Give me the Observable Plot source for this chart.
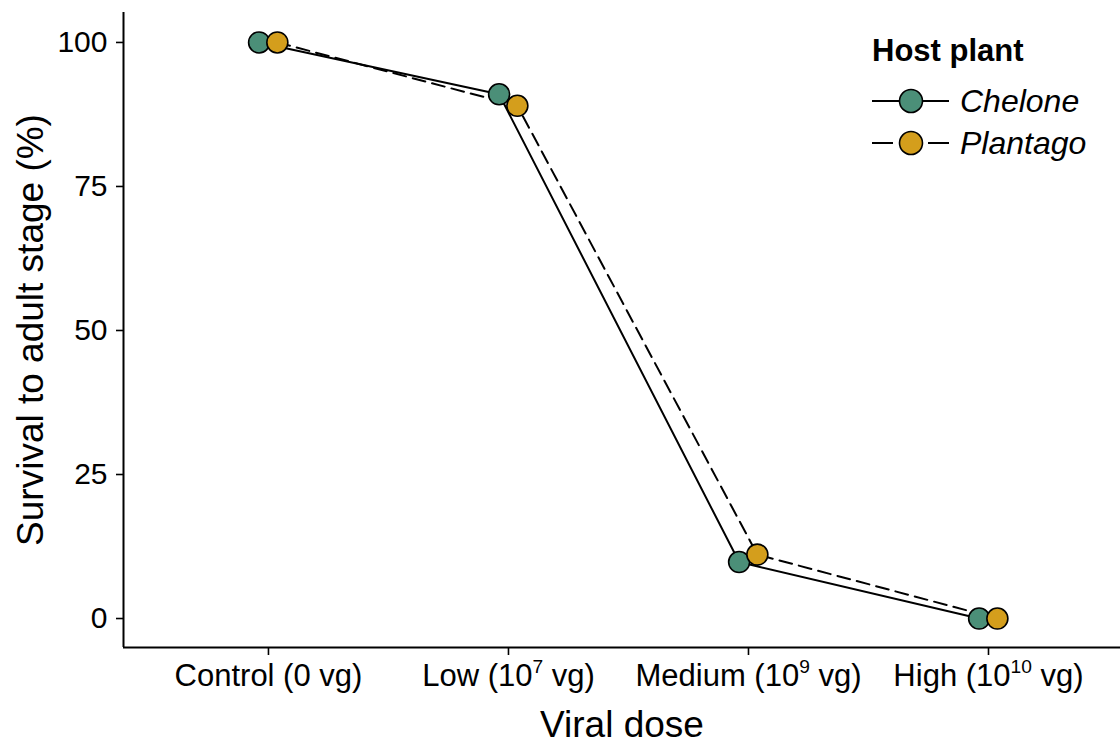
<!DOCTYPE html>
<html>
<head>
<meta charset="utf-8">
<script src="https://cdn.jsdelivr.net/npm/d3@7"></script>
<script src="https://cdn.jsdelivr.net/npm/@observablehq/plot@0.6"></script>
<style>
  html, body { margin: 0; padding: 0; background: #fff; }
  #wrap { position: relative; width: 1120px; height: 746px; font-family: "Liberation Sans", Arial, sans-serif; }
  #legend { position: absolute; left: 850px; top: 20px; }
</style>
</head>
<body>
<div id="wrap"></div>
<script>
// ---- data ----
const categories = ["Control (0 vg)", "Low (10^7 vg)", "Medium (10^9 vg)", "High (10^10 vg)"];
const hostPlants = ["Chelone", "Plantago"];
const cheloneSurvival = [100, 91.0, 9.8, 0];
const plantagoSurvival = [100, 89.0, 11.1, 0];
const yTicks = [0, 25, 50, 75, 100];
const plantColors = ["#4b8f78", "#d49e1c"];
const plantDash = [null, "13,7"];
const legendTitle = "Host plant";

// build table
const dodge = {Chelone: -0.039, Plantago: 0.037};
const rows = [];
categories.forEach((c, i) => {
  rows.push({plant: "Chelone", cat: c, idx: i, x: i + dodge.Chelone, y: cheloneSurvival[i]});
  rows.push({plant: "Plantago", cat: c, idx: i, x: i + dodge.Plantago, y: plantagoSurvival[i]});
});

const xDomain = [-0.604, 3.55];
const yDomain = [-5.03, 105.2];
const font = "'Liberation Sans', Arial, Helvetica, sans-serif";

const chart = Plot.plot({
  width: 1120,
  height: 746,
  marginLeft: 123,
  marginRight: 0,
  marginTop: 12,
  marginBottom: 99,
  style: {fontFamily: font, background: "#fff", color: "#000"},
  x: {domain: xDomain},
  y: {domain: yDomain},
  color: {domain: hostPlants, range: plantColors},
  marks: [
    Plot.axisY({ticks: yTicks, tickSize: 7, tickPadding: 9, fontSize: 30, label: null, stroke: "#000", strokeWidth: 1.6, fill: "#000"}),
    Plot.axisX({ticks: [0, 1, 2, 3], tickFormat: i => categories[i], tickSize: 8, tickPadding: 8, fontSize: 31, label: null, stroke: "#000", strokeWidth: 1.6, fill: "#000"}),
    Plot.ruleX([xDomain[0]], {stroke: "#000", strokeWidth: 2}),
    Plot.ruleY([yDomain[0]], {stroke: "#000", strokeWidth: 2}),
    Plot.line(rows.filter(d => d.plant === "Chelone"), {x: "x", y: "y", stroke: "#000", strokeWidth: 2}),
    Plot.line(rows.filter(d => d.plant === "Plantago"), {x: "x", y: "y", stroke: "#000", strokeWidth: 2, strokeDasharray: plantDash[1]}),
    Plot.dot(rows, {x: "x", y: "y", fill: "plant", r: 10.5, stroke: "#000", strokeWidth: 1.6}),
    Plot.text(["Survival to adult stage (%)"], {frameAnchor: "left", textAnchor: "middle", dx: -92, rotate: -90, fontSize: 37, fill: "#000"}),
    Plot.text(["Viral dose"], {frameAnchor: "bottom", textAnchor: "middle", dy: 89, fontSize: 37, fill: "#000"})
  ]
});

const wrap = document.getElementById("wrap");
wrap.appendChild(chart);

// superscripts in x tick labels ("10^7" -> 10 with raised 7)
d3.select(chart).selectAll("text").each(function () {
  const t = this.textContent;
  if (!/\^\d+/.test(t)) return;
  const sel = d3.select(this);
  sel.text(null);
  const parts = t.split(/\^(\d+)/);
  parts.forEach((part, k) => {
    if (!part) return;
    if (k % 2 === 1) {
      sel.append("tspan").attr("dy", "-0.42em").attr("font-size", "0.62em").text(part);
    } else {
      const ts = sel.append("tspan").text(part);
      if (k > 0) ts.attr("dy", "0.42em").attr("font-size", "1em");
    }
  });
});
// fix dy of tspans following superscript: dy in em relative to own font size
d3.select(chart).selectAll("tspan").each(function (d, i) {
  const s = d3.select(this);
  if (s.attr("font-size") === "0.62em") {
    // raise by 0.42 of the parent size
    s.attr("dy", (-0.42 / 0.62).toFixed(3) + "em");
  }
});

// legend (overlay, positions relative to (850,20))
const lg = d3.select(wrap).append("svg").attr("id", "legend")
  .attr("width", 270).attr("height", 150)
  .style("font-family", font);
lg.append("text").attr("x", 22).attr("y", 41).attr("font-size", 31).attr("font-weight", "bold")
  .attr("fill", "#000").text(legendTitle);
hostPlants.forEach((p, i) => {
  const cy = 81 + i * 42;
  lg.append("line").attr("x1", 22).attr("x2", 99).attr("y1", cy).attr("y2", cy)
    .attr("stroke", "#000").attr("stroke-width", 2)
    .attr("stroke-dasharray", plantDash[i] ? "21,35" : null);
  lg.append("circle").attr("cx", 61).attr("cy", cy).attr("r", 11.5)
    .attr("fill", plantColors[i]).attr("stroke", "#000").attr("stroke-width", 1.6);
  lg.append("text").attr("x", 110).attr("y", cy + 11).attr("font-size", 32).attr("font-style", "italic")
    .attr("fill", "#000").text(p);
});
</script>
</body>
</html>
